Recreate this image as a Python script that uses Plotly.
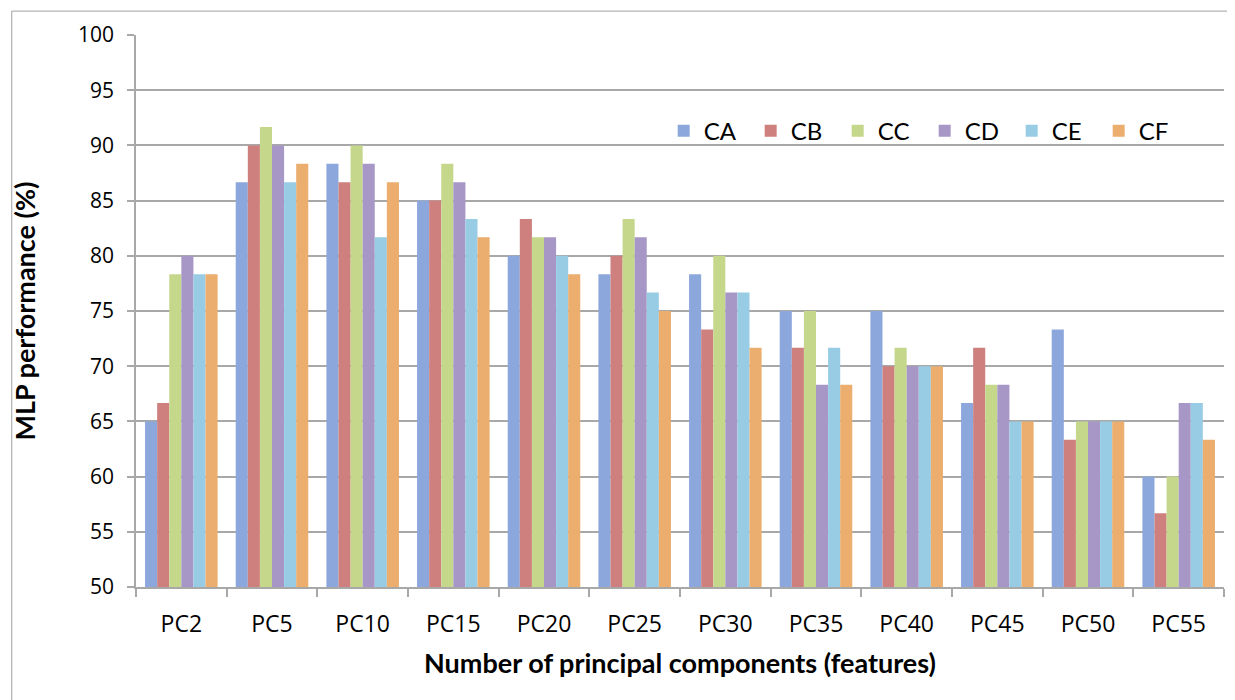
import plotly.graph_objects as go

categories = ["PC2", "PC5", "PC10", "PC15", "PC20", "PC25", "PC30", "PC35", "PC40", "PC45", "PC50", "PC55"]
series_names = ["CA", "CB", "CC", "CD", "CE", "CF"]

CA = [65.00, 86.67, 88.33, 85.00, 80.00, 78.33, 78.33, 75.00, 75.00, 66.67, 73.33, 60.00]
CB = [66.67, 90.00, 86.67, 85.00, 83.33, 80.00, 73.33, 71.67, 70.00, 71.67, 63.33, 56.67]
CC = [78.33, 91.67, 90.00, 88.33, 81.67, 83.33, 80.00, 75.00, 71.67, 68.33, 65.00, 60.00]
CD = [80.00, 90.00, 88.33, 86.67, 81.67, 81.67, 76.67, 68.33, 70.00, 68.33, 65.00, 66.67]
CE = [78.33, 86.67, 81.67, 83.33, 80.00, 76.67, 76.67, 71.67, 70.00, 65.00, 65.00, 66.67]
CF = [78.33, 88.33, 86.67, 81.67, 78.33, 75.00, 71.67, 68.33, 70.00, 65.00, 65.00, 63.33]

y_ticks = [50, 55, 60, 65, 70, 75, 80, 85, 90, 95, 100]

colors = ["#8CA7DC", "#CD807E", "#C5D78B", "#A797C7", "#97CCE4", "#EBAE6E"]
values = [CA, CB, CC, CD, CE, CF]

fig = go.Figure()
for name, vals, col in zip(series_names, values, colors):
    fig.add_trace(go.Bar(
        x=categories, y=vals, name=name,
        marker=dict(color=col, line=dict(width=0)),
    ))

grid_col = "#A8A8A8"
fig.update_layout(
    width=1235, height=700,
    paper_bgcolor="white", plot_bgcolor="white",
    margin=dict(l=128, r=19, t=25, b=121),
    barmode="group", bargap=0.2, bargroupgap=0.0,
    font=dict(family="Open Sans", size=20, color="black"),
    showlegend=True,
    legend=dict(
        orientation="h", x=0.485, y=0.826, xanchor="left", yanchor="middle",
        font=dict(family="Lato", size=24, color="black"),
        bgcolor="rgba(0,0,0,0)", entrywidth=42, entrywidthmode="pixels",
        traceorder="normal",
    ),
    xaxis=dict(
        type="category",
        showline=True, linecolor=grid_col, linewidth=1.5,
        ticks="outside", tickson="boundaries", ticklen=8, tickcolor=grid_col, tickwidth=1.5,
        tickfont=dict(family="Open Sans", size=23, color="black"),
        ticklabelstandoff=16,
        showgrid=False,
        title=dict(text="<b>Number of principal components (features)</b>",
                   font=dict(family="Lato", size=27, color="black"), standoff=16),
    ),
    yaxis=dict(
        range=[50, 100], tickvals=y_ticks, ticktext=[str(v) for v in y_ticks],
        showline=True, linecolor=grid_col, linewidth=1.5,
        ticks="outside", ticklen=7, tickcolor=grid_col, tickwidth=1.5,
        ticklabelstandoff=9,
        showgrid=True, gridcolor=grid_col, gridwidth=1.5,
        zeroline=False,
        tickfont=dict(family="Open Sans", size=21, color="black"),
        title=dict(text="<b>MLP performance (%)</b>",
                   font=dict(family="Lato", size=27, color="black"), standoff=38),
    ),
    shapes=[dict(type="rect", xref="paper", yref="paper",
                 x0=-0.1142, x1=1.2, y0=-0.4, y1=1.0433,
                 line=dict(color="#A0A0A0", width=1), fillcolor="rgba(0,0,0,0)", layer="below")],
)

fig.write_html("out.html")
